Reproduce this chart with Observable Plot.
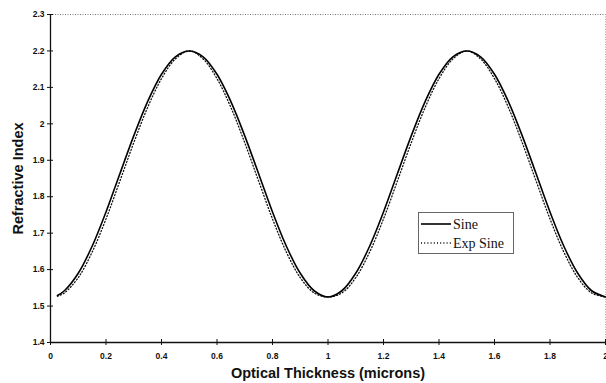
<!DOCTYPE html>
<html>
<head>
<meta charset="utf-8">
<script src="https://cdn.jsdelivr.net/npm/d3@7"></script>
<script src="https://cdn.jsdelivr.net/npm/@observablehq/plot@0.6"></script>
<style>
  html, body { margin: 0; padding: 0; background: #fff; }
  #wrap { position: relative; width: 606px; height: 383px; overflow: hidden; }
  #legend { position: absolute; left: 418px; top: 212px; width: 96px; height: 42px;
            border: 1px solid #666; background: #fff; box-sizing: border-box; }
  #legend svg { display: block; }
</style>
</head>
<body>
<div id="wrap"></div>
<script>
// Optical thickness (microns) sample positions
const thickness = [0.025, 0.05, 0.10, 0.15, 0.20, 0.25, 0.30, 0.35, 0.40, 0.45, 0.50,
  0.55, 0.60, 0.65, 0.70, 0.75, 0.80, 0.85, 0.90, 0.95, 1.00,
  1.05, 1.10, 1.15, 1.20, 1.25, 1.30, 1.35, 1.40, 1.45, 1.50,
  1.55, 1.60, 1.65, 1.70, 1.75, 1.80, 1.85, 1.90, 1.95, 2.00];

// Refractive index profile: sine
const sine = [1.529, 1.542, 1.590, 1.664, 1.758, 1.863, 1.967, 2.061, 2.136, 2.184, 2.200,
  2.184, 2.136, 2.061, 1.967, 1.863, 1.758, 1.664, 1.590, 1.542, 1.525,
  1.542, 1.590, 1.664, 1.758, 1.863, 1.967, 2.061, 2.136, 2.184, 2.200,
  2.184, 2.136, 2.061, 1.967, 1.863, 1.758, 1.664, 1.590, 1.542, 1.525];

// Refractive index profile: exponential sine
const expSine = [1.527, 1.536, 1.578, 1.648, 1.739, 1.843, 1.948, 2.045, 2.124, 2.178, 2.200,
  2.178, 2.124, 2.045, 1.948, 1.843, 1.739, 1.648, 1.578, 1.536, 1.525,
  1.536, 1.578, 1.648, 1.739, 1.843, 1.948, 2.045, 2.124, 2.178, 2.200,
  2.178, 2.124, 2.045, 1.948, 1.843, 1.739, 1.648, 1.578, 1.536, 1.525];

const seriesNames = ["Sine", "Exp Sine"];
const xTicks = [0, 0.2, 0.4, 0.6, 0.8, 1, 1.2, 1.4, 1.6, 1.8, 2];
const yTicks = [1.4, 1.5, 1.6, 1.7, 1.8, 1.9, 2, 2.1, 2.2, 2.3];
const xTitle = "Optical Thickness (microns)";
const yTitle = "Refractive Index";

const sineRows = thickness.map((t, i) => ({t, n: sine[i]}));
const expRows = thickness.map((t, i) => ({t, n: expSine[i]}));

const chart = Plot.plot({
  width: 606,
  height: 383,
  marginLeft: 50,
  marginRight: 1,
  marginTop: 14,
  marginBottom: 41,
  style: {
    fontFamily: "'Liberation Sans', Arial, sans-serif",
    fontSize: "8.5px",
    fontWeight: "bold",
    color: "#111",
    background: "#fff"
  },
  x: {domain: [0, 2]},
  y: {domain: [1.4, 2.3]},
  marks: [
    // dotted plot-area border (top and right)
    Plot.ruleY([2.3], {stroke: "#777", strokeDasharray: "1,1.5"}),
    Plot.ruleX([2], {stroke: "#aaa", strokeDasharray: "1,1.5"}),
    // profiles
    Plot.line(expRows, {x: "t", y: "n", stroke: "#111", strokeWidth: 1.3,
      strokeDasharray: "1,2.2", curve: "catmull-rom"}),
    Plot.line(sineRows, {x: "t", y: "n", stroke: "#000", strokeWidth: 1.6,
      curve: "catmull-rom"}),
    // axis lines
    Plot.ruleX([0], {stroke: "#111", strokeWidth: 1.3}),
    Plot.ruleY([1.4], {stroke: "#111", strokeWidth: 1.3}),
    // axes with ticks crossing the axis line
    Plot.axisY({ticks: yTicks, tickSize: 6, dx: 3, tickPadding: 3,
      tickFormat: d => String(d), label: null, stroke: "#111"}),
    Plot.axisX({ticks: xTicks, tickSize: 6, dy: -3, tickPadding: 7,
      tickFormat: d => String(d), label: null, stroke: "#111"}),
    // axis titles
    Plot.text([xTitle], {frameAnchor: "bottom", textAnchor: "middle", lineAnchor: "middle",
      dy: 31, fontSize: 14.5, fontWeight: "bold", fill: "#111"}),
    Plot.text([yTitle], {frameAnchor: "left", textAnchor: "middle", lineAnchor: "middle",
      dx: -32, rotate: -90, fontSize: 14.5, fontWeight: "bold", fill: "#111"})
  ]
});

const wrap = document.getElementById("wrap");
wrap.appendChild(chart);

// legend box
const legend = document.createElement("div");
legend.id = "legend";
const lg = d3.create("svg").attr("width", 94).attr("height", 40);
const dashes = [null, "1,2.2"];
seriesNames.forEach((name, i) => {
  const y = 11 + i * 19;
  lg.append("line").attr("x1", 2).attr("x2", 32).attr("y1", y).attr("y2", y)
    .attr("stroke", "#000").attr("stroke-width", i === 0 ? 1.6 : 1.3)
    .attr("stroke-dasharray", dashes[i]);
  lg.append("text").attr("x", 34).attr("y", y + 4.5).text(name)
    .attr("font-family", "'Liberation Serif', 'Times New Roman', serif")
    .attr("font-size", 14).attr("font-weight", "normal").attr("fill", "#111");
});
legend.appendChild(lg.node());
wrap.appendChild(legend);
</script>
</body>
</html>
